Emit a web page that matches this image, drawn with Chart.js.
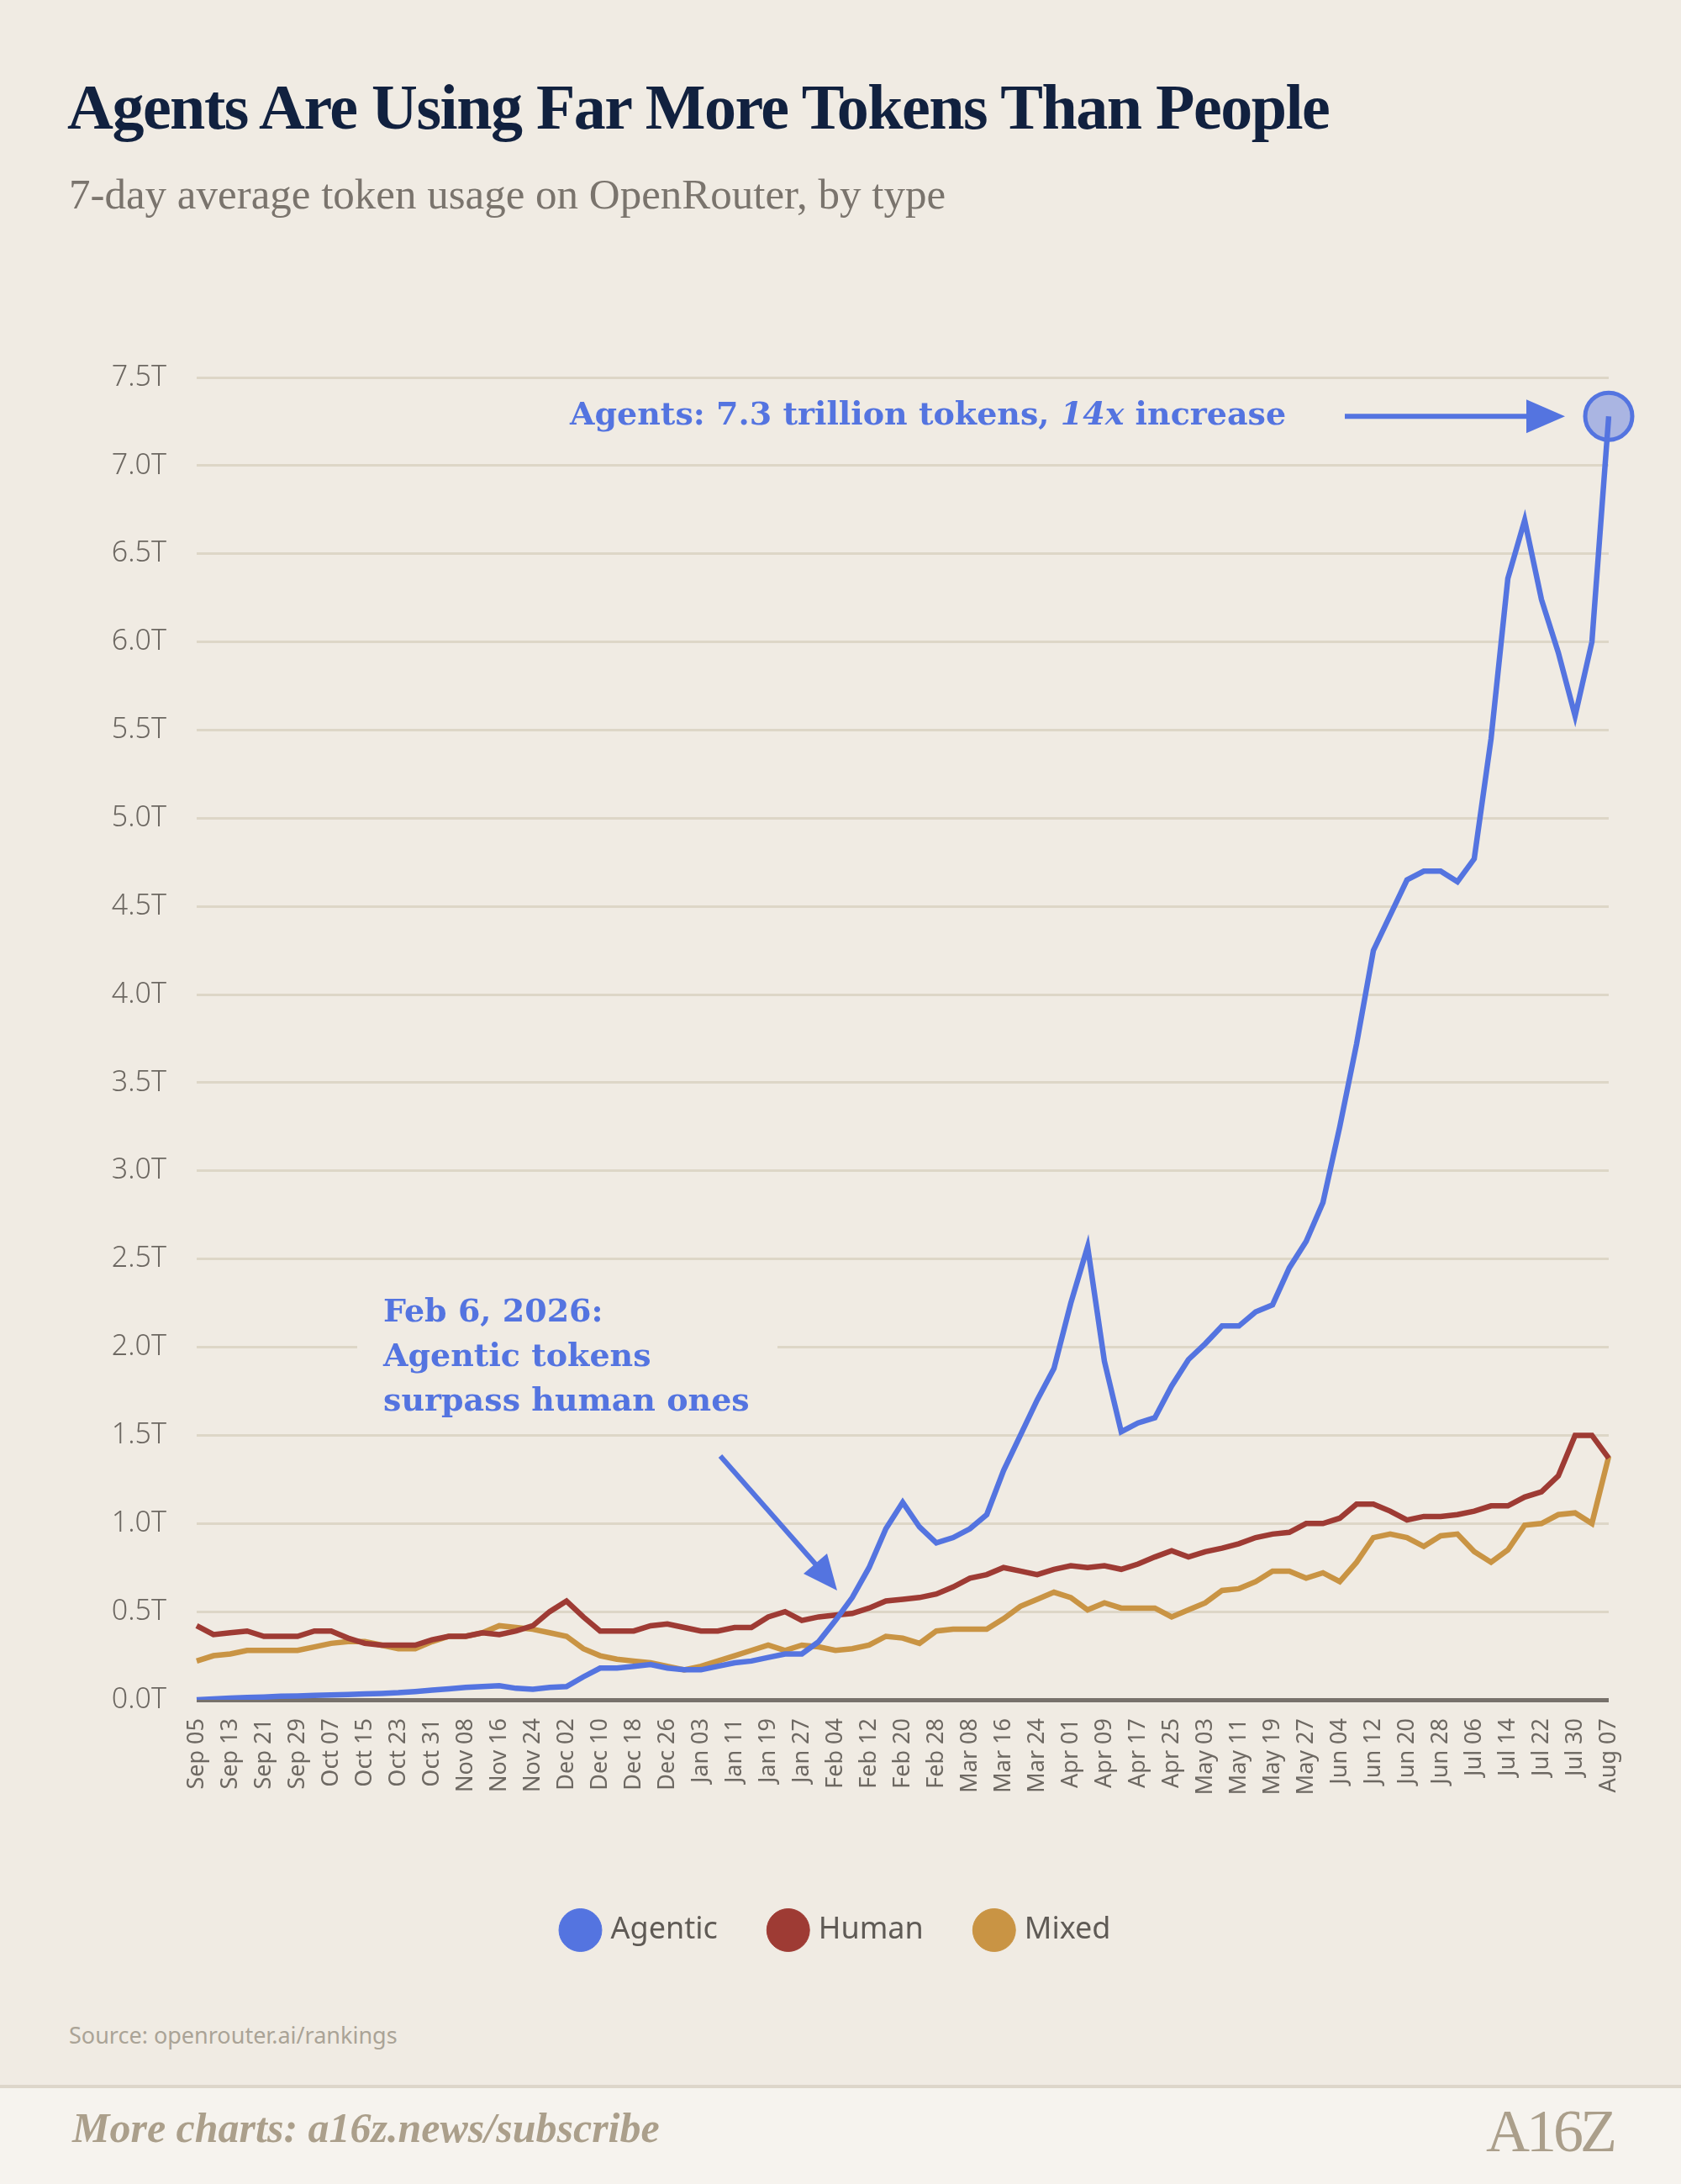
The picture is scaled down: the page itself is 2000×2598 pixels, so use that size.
<!DOCTYPE html>
<html>
<head>
<meta charset="utf-8">
<script src="https://cdn.jsdelivr.net/npm/chart.js@4"></script>
<style>
  html, body { margin: 0; padding: 0; }
  body { width: 2000px; height: 2598px; background: #f0ebe3; position: relative; overflow: hidden; font-family: "Noto Sans", sans-serif; }
  #title { position: absolute; left: 80px; top: 84px; font-family: "Liberation Serif", serif; font-weight: bold; font-size: 76px; color: #11213f; letter-spacing: -1.5px; white-space: nowrap; }
  #subtitle { position: absolute; left: 82px; top: 202px; font-family: "Liberation Serif", serif; font-size: 51px; color: #7a746d; white-space: nowrap; }
  #wrap { position: absolute; left: 0; top: 0; width: 2000px; height: 2334px; }
  #source { position: absolute; left: 82px; top: 2402px; font-size: 27px; color: #aaa396; }
  #footer { position: absolute; left: 0; top: 2480px; width: 2000px; height: 118px; background: #f6f3ee; border-top: 4px solid #ddd6ca; }
  #more { position: absolute; left: 86px; top: 18px; font-family: "Liberation Serif", serif; font-style: italic; font-weight: bold; font-size: 50px; color: #ab9f8b; }
  #logo { position: absolute; right: 80px; top: 10px; font-family: "Liberation Serif", serif; font-size: 72px; color: #ab9f8b; letter-spacing: -4px; }
</style>
</head>
<body>
<div id="title">Agents Are Using Far More Tokens Than People</div>
<div id="subtitle">7-day average token usage on OpenRouter, by type</div>
<div id="wrap"><canvas id="graph"></canvas></div>
<div id="source">Source: openrouter.ai/rankings</div>
<div id="footer"><div id="more">More charts: a16z.news/subscribe</div><div id="logo">A16Z</div></div>
<script>
// tick labels every 8 days, data every 4 days (Sep 05 .. Aug 07)
const tickLabels = ['Sep 05','Sep 13','Sep 21','Sep 29','Oct 07','Oct 15','Oct 23','Oct 31','Nov 08','Nov 16','Nov 24',
  'Dec 02','Dec 10','Dec 18','Dec 26','Jan 03','Jan 11','Jan 19','Jan 27','Feb 04','Feb 12','Feb 20','Feb 28','Mar 08',
  'Mar 16','Mar 24','Apr 01','Apr 09','Apr 17','Apr 25','May 03','May 11','May 19','May 27','Jun 04','Jun 12','Jun 20',
  'Jun 28','Jul 06','Jul 14','Jul 22','Jul 30','Aug 07'];
const yTicks = [0, 0.5, 1, 1.5, 2, 2.5, 3, 3.5, 4, 4.5, 5, 5.5, 6, 6.5, 7, 7.5];

// trillions of tokens
const agentic = [0.00,0.005,0.01,0.013,0.016,0.02,0.022,0.025,0.028,0.03,0.033,0.036,0.04,0.047,0.055,0.062,0.07,0.075,0.08,0.065,
  0.06,0.07,0.075,0.13,0.18,0.18,0.19,0.2,0.18,0.17,0.17,0.19,0.21,0.22,0.24,0.26,0.26,0.33,0.45,0.58,
  0.75,0.97,1.12,0.98,0.89,0.92,0.97,1.05,1.3,1.5,1.7,1.88,2.25,2.57,1.92,1.52,1.57,1.6,1.78,1.93,
  2.02,2.12,2.12,2.2,2.24,2.45,2.6,2.82,3.25,3.72,4.25,4.45,4.65,4.7,4.7,4.64,4.77,5.45,6.36,6.69,
  6.24,5.94,5.58,6.0,7.28];
const human = [0.42,0.37,0.38,0.39,0.36,0.36,0.36,0.39,0.39,0.35,0.32,0.31,0.31,0.31,0.34,0.36,0.36,0.38,0.37,0.39,
  0.42,0.5,0.56,0.47,0.39,0.39,0.39,0.42,0.43,0.41,0.39,0.39,0.41,0.41,0.47,0.5,0.45,0.47,0.48,0.49,
  0.52,0.56,0.57,0.58,0.6,0.64,0.69,0.71,0.75,0.73,0.71,0.74,0.76,0.75,0.76,0.74,0.77,0.81,0.845,0.81,
  0.84,0.86,0.885,0.92,0.94,0.95,1.0,1.0,1.03,1.11,1.11,1.07,1.02,1.04,1.04,1.05,1.07,1.1,1.1,1.15,
  1.18,1.27,1.5,1.5,1.37];
const mixed = [0.22,0.25,0.26,0.28,0.28,0.28,0.28,0.30,0.32,0.33,0.33,0.31,0.29,0.29,0.33,0.36,0.36,0.38,0.42,0.41,
  0.40,0.38,0.36,0.29,0.25,0.23,0.22,0.21,0.19,0.17,0.19,0.22,0.25,0.28,0.31,0.28,0.31,0.30,0.28,0.29,
  0.31,0.36,0.35,0.32,0.39,0.40,0.40,0.40,0.46,0.53,0.57,0.61,0.58,0.51,0.55,0.52,0.52,0.52,0.47,0.51,
  0.55,0.62,0.63,0.67,0.73,0.73,0.69,0.72,0.67,0.78,0.92,0.94,0.92,0.87,0.93,0.94,0.84,0.78,0.85,0.99,
  1.0,1.05,1.06,1.0,1.38];

const BLUE = '#5474e0', RED = '#9e3b34', GOLD = '#c99444';
const labels = [];
tickLabels.forEach((t, i) => { labels.push(t); if (i < tickLabels.length - 1) labels.push(''); });

const annotations = {
  id: 'annotations',
  afterDatasetsDraw(chart) {
    const c = chart.ctx, x = chart.scales.x, y = chart.scales.y;
    const last = agentic.length - 1;
    const px = x.getPixelForValue(last), py = y.getPixelForValue(agentic[last]);
    c.save();
    // end marker
    c.beginPath(); c.arc(px, py, 28, 0, Math.PI * 2);
    c.fillStyle = 'rgba(84,116,224,0.45)'; c.fill();
    c.lineWidth = 5; c.strokeStyle = BLUE; c.stroke();
    // top label + arrow
    c.fillStyle = BLUE; c.textBaseline = 'middle';
    c.font = 'bold 38px "DejaVu Serif"';
    const t1 = 'Agents: 7.3 trillion tokens, ', t2 = '14x', t3 = ' increase';
    let tx = 678;
    c.fillText(t1, tx, py); tx += c.measureText(t1).width;
    c.font = 'italic bold 38px "DejaVu Serif"';
    c.fillText(t2, tx, py); tx += c.measureText(t2).width;
    c.font = 'bold 38px "DejaVu Serif"';
    c.fillText(t3, tx, py);
    c.strokeStyle = BLUE; c.lineWidth = 6;
    c.beginPath(); c.moveTo(1600, py); c.lineTo(1820, py); c.stroke();
    c.beginPath(); c.moveTo(1862, py); c.lineTo(1816, py - 20); c.lineTo(1816, py + 20); c.closePath(); c.fill();
    // Feb 6 annotation
    c.fillStyle = '#f0ebe3'; c.fillRect(425, 1520, 500, 170);
    c.fillStyle = BLUE; c.font = 'bold 38px "DejaVu Serif"'; c.textBaseline = 'alphabetic';
    c.fillText('Feb 6, 2026:', 456, 1572);
    c.fillText('Agentic tokens', 456, 1625);
    c.fillText('surpass human ones', 456, 1678);
    c.beginPath(); c.moveTo(857, 1732); c.lineTo(975, 1866); c.stroke();
    c.beginPath(); c.moveTo(996, 1892); c.lineTo(956, 1872); c.lineTo(984, 1848); c.closePath(); c.fill();
    c.restore();
  }
};

const ctx = document.getElementById('graph').getContext('2d');
const chart = new Chart(ctx, {
  type: 'line',
  data: {
    labels: labels,
    datasets: [
      { label: 'Agentic', data: agentic, borderColor: BLUE, backgroundColor: BLUE },
      { label: 'Human', data: human, borderColor: RED, backgroundColor: RED },
      { label: 'Mixed', data: mixed, borderColor: GOLD, backgroundColor: GOLD }
    ]
  },
  options: {
    responsive: true, maintainAspectRatio: false, animation: false, devicePixelRatio: 1,
    elements: { line: { borderWidth: 6.5, tension: 0 }, point: { radius: 0 } },
    layout: { padding: { left: 80, right: 86, top: 449, bottom: 10 } },
    plugins: {
      tooltip: { enabled: false },
      legend: {
        position: 'bottom',
        labels: { usePointStyle: true, pointStyle: 'circle', boxWidth: 36, boxHeight: 36, padding: 66,
          color: '#5f5a55', font: { family: 'Noto Sans', size: 36 } }
      }
    },
    scales: {
      x: {
        grid: { display: false }, border: { display: false },
        afterFit: s => { s.height = 190; },
        ticks: { autoSkip: false, minRotation: 90, maxRotation: 90, padding: 14, color: '#6d6862',
          font: { family: 'Noto Sans', size: 27 } }
      },
      y: {
        min: 0, max: 7.5,
        afterBuildTicks: s => { s.ticks = yTicks.map(v => ({ value: v })); },
        afterFit: s => { s.width = 154; },
        border: { display: false },
        grid: { drawTicks: false, lineWidth: c => c.tick.value === 0 ? 5 : 3,
          color: c => c.tick.value === 0 ? '#77716b' : '#ddd6c7' },
        ticks: { padding: 36, color: '#6d6862', font: { family: 'Noto Sans', size: 34, weight: '300' },
          callback: v => v.toFixed(1) + 'T' }
      }
    }
  },
  plugins: [annotations]
});
</script>
</body>
</html>
